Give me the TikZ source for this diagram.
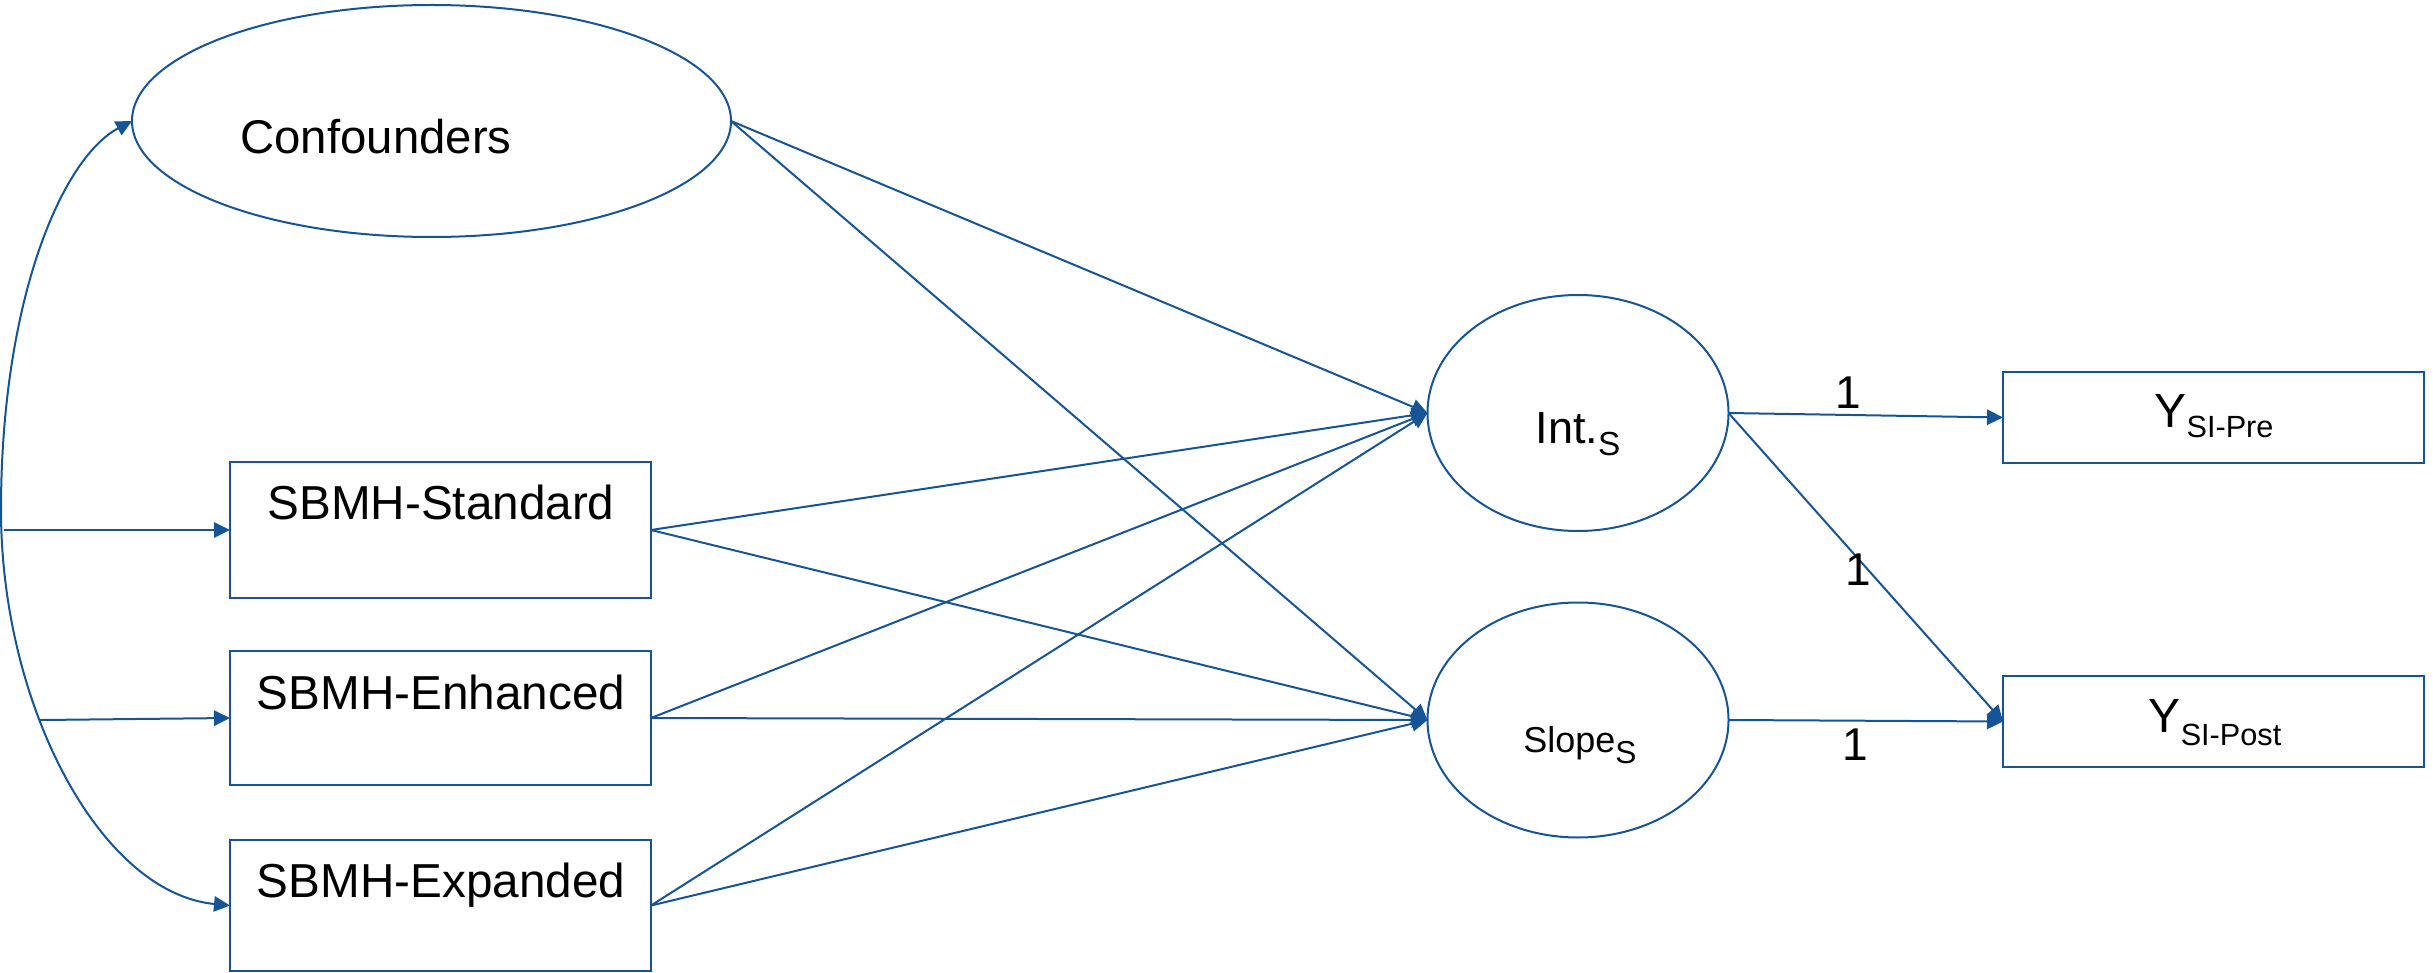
\documentclass[tikz,border=0pt]{standalone}
\usepackage{fontspec}
\setmainfont{Liberation Sans}
\usetikzlibrary{shapes.geometric,arrows.meta}
\definecolor{pathblue}{RGB}{22,84,152}
\tikzset{
  latent/.style={ellipse,draw=pathblue,line width=0.6pt,inner sep=0pt,outer sep=0pt},
  observed/.style={rectangle,draw=pathblue,line width=0.6pt,inner sep=0pt,outer sep=0pt,minimum width=126.3pt},
  label/.style={inner sep=0pt,anchor=base,text=black},
  path/.style={draw=pathblue,line width=0.6pt,-{Triangle[length=4.8pt,width=4.6pt]}},
  bipath/.style={draw=pathblue,line width=0.6pt,{Triangle[length=4.8pt,width=4.6pt]}-{Triangle[length=4.8pt,width=4.6pt]}},
  coef/.style={inner sep=0pt,font=\fontsize{13.8}{16}\selectfont}
}
\begin{document}
\begin{tikzpicture}[x=0.3pt,y=-0.3pt]
\useasboundingbox (0,0) rectangle (2433,973);

% latent factors
\node[latent,minimum width=179.7pt,minimum height=69.6pt] (conf) at (431.5,121) {};
\node[latent,minimum width=90.3pt,minimum height=70.8pt] (int) at (1578,413) {};
\node[latent,minimum width=90.3pt,minimum height=70.5pt] (slope) at (1578,720) {};

% observed variables
\node[observed,minimum height=40.8pt] (std) at (440.5,530) {};
\node[observed,minimum height=40.2pt] (enh) at (440.5,718) {};
\node[observed,minimum height=39.3pt] (exp) at (440.5,905.5) {};
\node[observed,minimum height=27.3pt] (ypre) at (2213.5,417.5) {};
\node[observed,minimum height=27.3pt] (ypost) at (2213.5,721.5) {};

% texts
\node[label,font=\fontsize{14.2}{17}\selectfont] (conf-t) at (376,154) {Confounders};
\node[label,font=\fontsize{14.3}{17}\selectfont] (std-t) at (441,519) {SBMH-Standard};
\node[label,font=\fontsize{14.3}{17}\selectfont] (enh-t) at (441,709) {SBMH-Enhanced};
\node[label,font=\fontsize{14.3}{17}\selectfont] (exp-t) at (441,897) {SBMH-Expanded};
\node[label,font=\fontsize{13.5}{17}\selectfont] (int-t) at (1578,443)
  {Int.\raisebox{-3.6pt}{\fontsize{10}{12}\selectfont S}};
\node[label,font=\fontsize{10.8}{13}\selectfont] (slope-t) at (1580,752)
  {Slope\raisebox{-3.3pt}{\fontsize{9.5}{12}\selectfont S}};
\node[label,font=\fontsize{14.4}{17}\selectfont] (ypre-t) at (2214,428)
  {Y\raisebox{-3pt}{\fontsize{9.2}{11}\selectfont SI-Pre}};
\node[label,font=\fontsize{14.4}{17}\selectfont] (ypost-t) at (2215,732)
  {Y\raisebox{-3.9pt}{\fontsize{9.2}{11}\selectfont SI-Post}};

% covariance between confounders and the expanded condition
\coordinate (cov-left) at (1,510);
\draw[bipath] (conf.west) .. controls (62,158) and (1,300) .. (cov-left)
  .. controls (1,705) and (100,893) .. (exp.west)
  coordinate[pos=0.38] (cov-enh);
\coordinate (std-in) at (4,530);
\draw[path] (std-in) -- (std.west);
\draw[path] (cov-enh) -- (enh.west);

% structural paths
\foreach \src in {conf,std,enh,exp}{
  \draw[path] (\src.east) -- (int.west);
  \draw[path] (\src.east) -- (slope.west);
}

% growth loadings
\draw[path] (int.east) -- (ypre.west);
\draw[path] (int.east) -- (ypost.west);
\draw[path] (slope.east) -- (ypost.west);
\node[coef] (l1) at (1848,393) {1};
\node[coef] (l2) at (1858,570) {1};
\node[coef] (l3) at (1855,745) {1};
\end{tikzpicture}
\end{document}
